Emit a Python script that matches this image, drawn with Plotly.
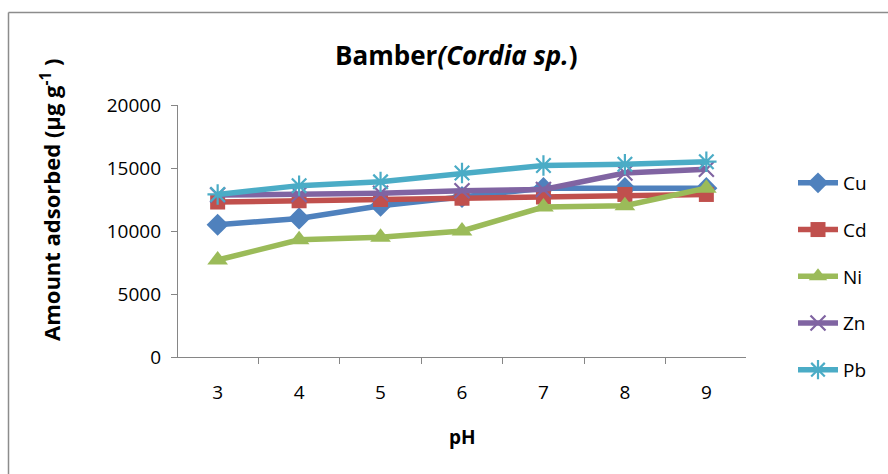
import plotly.graph_objects as go

ph = ["3", "4", "5", "6", "7", "8", "9"]
cu = [10500, 11000, 12000, 12700, 13400, 13400, 13400]
cd = [12300, 12400, 12500, 12600, 12700, 12900, 12900]
ni = [7700, 9300, 9500, 10000, 11900, 12000, 13400]
zn = [12850, 12900, 13000, 13200, 13300, 14600, 14900]
pb = [12900, 13600, 13900, 14600, 15200, 15300, 15500]
y_ticks = [0, 5000, 10000, 15000, 20000]

series = [
    ("Cu", cu, "#4F81BD", dict(symbol="diamond", size=17)),
    ("Cd", cd, "#C0504D", dict(symbol="square", size=15)),
    ("Ni", ni, "#9BBB59", dict(symbol="triangle-up", size=18)),
    ("Zn", zn, "#8064A2", dict(symbol="x-thin-open", size=15, line=dict(width=2.2, color="#8064A2"))),
    ("Pb", pb, "#4BACC6", dict(symbol="asterisk-open", size=17, line=dict(width=2.2, color="#4BACC6"))),
]

FONT = "Open Sans"
fig = go.Figure()
for name, vals, col, mk in series:
    m = dict(color=col, **mk)
    fig.add_trace(go.Scatter(x=ph, y=vals, name=name, mode="lines+markers",
                             line=dict(color=col, width=5.5), marker=m,
                             legendgroup=name))

W, H = 888, 474
L, R, T, B = 178, 142, 105, 117
pw, ph_ = W - L - R, H - T - B

def px(x):
    return (x - L) / pw

def py(y):
    return (H - B - y) / ph_

axcol = "#868686"
fig.update_layout(
    width=W, height=H,
    margin=dict(l=L, r=R, t=T, b=B),
    paper_bgcolor="white", plot_bgcolor="white",
    font=dict(family=FONT, size=18, color="black"),
    showlegend=True,
    legend=dict(x=px(793), y=py(164), xanchor="left", yanchor="top",
                font=dict(size=19, family=FONT), tracegroupgap=19,
                itemwidth=40, bgcolor="rgba(0,0,0,0)"),
    xaxis=dict(type="category", showline=True, linecolor=axcol, linewidth=1.3,
               ticks="outside", tickson="boundaries", ticklen=6, tickcolor=axcol,
               showgrid=False, zeroline=False, ticklabelstandoff=18,
               tickfont=dict(size=19)),
    yaxis=dict(range=[0, 20000], tickvals=y_ticks, ticktext=[str(v) for v in y_ticks],
               showline=True, linecolor=axcol,
               linewidth=1.3, ticks="outside", ticklen=6, tickcolor=axcol,
               showgrid=False, zeroline=False, ticklabelstandoff=6,
               tickfont=dict(size=19)),
    annotations=[
        dict(text="<b>Bamber<i>(Cordia sp.</i>)</b>", x=px(456), y=py(55),
             xanchor="center", yanchor="middle",
             xref="paper", yref="paper", showarrow=False, font=dict(size=26)),
        dict(text="<b>pH</b>", x=px(462), y=py(437), xref="paper", yref="paper",
             xanchor="center", yanchor="middle",
             showarrow=False, font=dict(size=19)),
        dict(text="<b>Amount adsorbed (μg g<sup>-1</sup> )</b>", x=px(50), y=py(200),
             xanchor="center", yanchor="middle",
             xref="paper", yref="paper", showarrow=False, textangle=-90,
             font=dict(size=22)),
    ],
    shapes=[
        dict(type="line", xref="paper", yref="paper", x0=px(8.5), x1=px(890),
             y0=py(12.5), y1=py(12.5), line=dict(color="#8c8c8c", width=1.5)),
        dict(type="line", xref="paper", yref="paper", x0=px(8.5), x1=px(8.5),
             y0=py(12.5), y1=py(480), line=dict(color="#8c8c8c", width=1.5)),
    ],
)
fig.write_html("out.html")
